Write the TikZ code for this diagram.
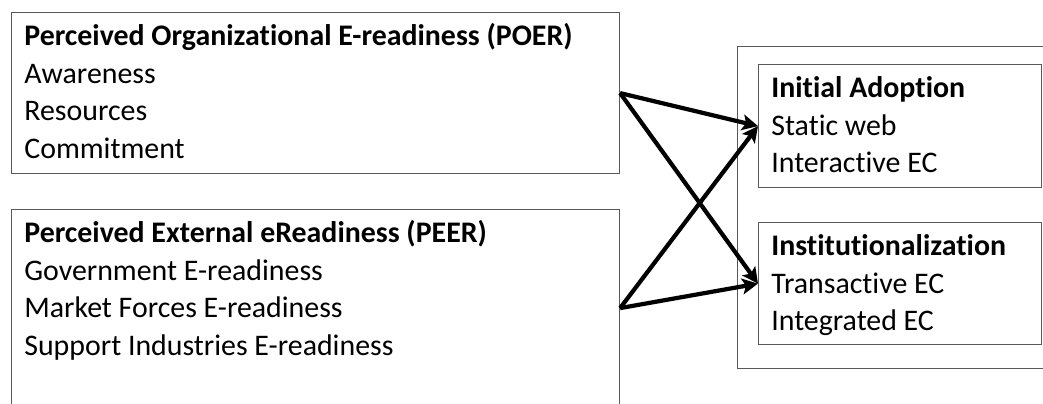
\documentclass[tikz,border=0pt]{standalone}
\usepackage{fontspec}
\setmainfont{Carlito}[Ligatures=NoCommon]
\usetikzlibrary{arrows.meta,positioning}

\tikzset{
  box/.style={draw=black!65, line width=0.7pt, inner sep=0pt, anchor=north west},
  boxtext/.style={align=left, anchor=north west, inner sep=0pt,
    font=\fontsize{17}{21.34}\selectfont},
  link/.style={line width=2.4pt, -{Stealth[length=9pt, width=9pt, inset=2pt]}}
}

\begin{document}
\begin{tikzpicture}[x=0.02cm, y=-0.02cm]
        \useasboundingbox (0,0) rectangle (1043,403);
        \clip (0,0) rectangle (1043,403);

        % Readiness boxes
        \node[box, minimum width=12.16cm, minimum height=3.22cm] (poer) at (11,12) {};
        \node[box, minimum width=12.16cm, minimum height=3.94cm] (peer) at (11,209) {};

        % Adoption stages
        \node[box, minimum width=6.46cm, minimum height=6.44cm] (stage) at (737,46) {};
        \node[box, minimum width=5.66cm, minimum height=2.46cm] (adopt) at (758,64) {};
        \node[box, minimum width=5.66cm, minimum height=2.44cm] (inst) at (758,222) {};

        % Texts
        \node[boxtext, below right=0.14cm and 0.26cm of poer.north west, anchor=north west] (poertext)
          {\strut\textbf{Perceived Organizational E-readiness (POER)}\\Awareness\\Resources\\Commitment};
        \node[boxtext, below right=0.14cm and 0.26cm of peer.north west, anchor=north west] (peertext)
          {\strut\textbf{Perceived External eReadiness (PEER)}\\Government E-readiness\\Market Forces E-readiness\\Support Industries E-readiness};
        \node[boxtext, below right=0.14cm and 0.26cm of adopt.north west, anchor=north west] (adopttext)
          {\strut\textbf{Initial Adoption}\\Static web\\Interactive EC};
        \node[boxtext, below right=0.14cm and 0.26cm of inst.north west, anchor=north west] (insttext)
          {\strut\textbf{Institutionalization}\\Transactive EC\\Integrated EC};

        % Links
        \draw[link] (poer.east) -- (adopt.west);
        \draw[link] (poer.east) -- (inst.west);
        \draw[link] (peer.east) -- (adopt.west);
        \draw[link] (peer.east) -- (inst.west);
\end{tikzpicture}
\end{document}
